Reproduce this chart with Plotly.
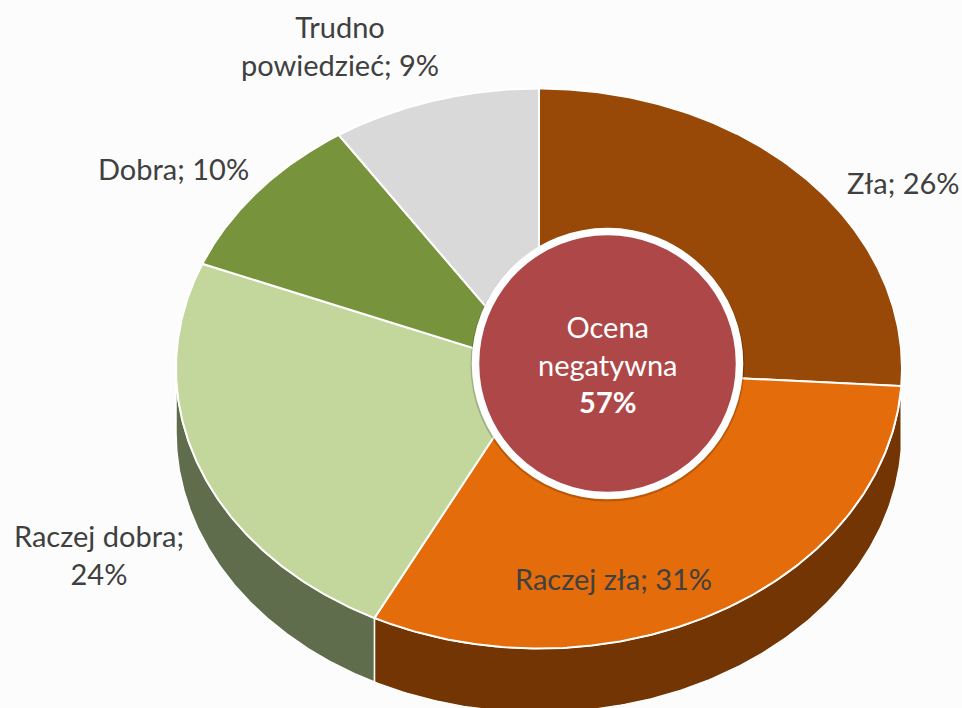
import numpy as np
import plotly.graph_objects as go

categories = ["Zła", "Raczej zła", "Raczej dobra", "Dobra", "Trudno powiedzieć"]
values = [26.0, 31.49, 23.61, 9.6, 9.3]
top_colors = ["#984807", "#E46C0A", "#C3D69B", "#77933C", "#D9D9D9"]
side_colors = ["#6B3205", "#733503", "#606D4D", "#55692B", "#999999"]
label_texts = ["Zła; 26%", "Raczej zła; 31%", "Raczej dobra;<br>24%", "Dobra; 10%", "Trudno<br>powiedzieć; 9%"]
label_x = [903, 613, 99, 173, 340]
label_y = [182, 578, 554, 168, 45]
center_lines = ["Ocena", "negatywna", "<b>57%</b>"]
negative_share = 57

CX, CY, RX, RY, DEPTH = 539, 368.5, 363, 280, 64
BADGE_X, BADGE_Y, BADGE_R = 607.5, 363.5, 132
TXT = "#404040"
BG = "#FCFCFC"


def pt(a, dy=0):
    return CX + RX * np.sin(a), CY - RY * np.cos(a) + dy


fig = go.Figure()
edges = 2 * np.pi * np.concatenate([[0], np.cumsum(values)]) / sum(values)

# visible wall (front half of the ellipse)
for i in range(len(values)):
    a0, a1 = max(edges[i], np.pi / 2), min(edges[i + 1], 3 * np.pi / 2)
    if a1 <= a0:
        continue
    t = np.linspace(a0, a1, 160)
    x1, y1 = pt(t)
    x2, y2 = pt(t[::-1], DEPTH)
    fig.add_trace(go.Scatter(x=np.r_[x1, x2, x1[0]], y=np.r_[y1, y2, y1[0]], mode="lines", fill="toself",
                             fillcolor=side_colors[i], line=dict(color="#FFFFFF", width=1.5),
                             hoverinfo="skip", showlegend=False))

# top surface
for i, name in enumerate(categories):
    t = np.linspace(edges[i], edges[i + 1], 200)
    x, y = pt(t)
    fig.add_trace(go.Scatter(x=np.r_[CX, x, CX], y=np.r_[CY, y, CY], mode="lines", fill="toself",
                             fillcolor=top_colors[i], line=dict(color="#FFFFFF", width=2),
                             name=name, hoverinfo="name", showlegend=False))

shapes = [
    dict(type="circle", xref="x", yref="y", x0=BADGE_X - BADGE_R - 5, x1=BADGE_X + BADGE_R + 5,
         y0=BADGE_Y - BADGE_R - 3, y1=BADGE_Y + BADGE_R + 6, fillcolor="rgba(0,0,0,0.18)", line_width=0,
         layer="above"),
    dict(type="circle", xref="x", yref="y", x0=BADGE_X - BADGE_R, x1=BADGE_X + BADGE_R,
         y0=BADGE_Y - BADGE_R, y1=BADGE_Y + BADGE_R, fillcolor="#AE4848",
         line=dict(color="#FFFFFF", width=7.5), layer="above"),
]

annotations = [
    dict(x=x, y=y, text=s, showarrow=False, xref="x", yref="y", xanchor="center", yanchor="middle",
         font=dict(family="Lato", size=29, color=TXT))
    for s, x, y in zip(label_texts, label_x, label_y)
]
annotations.append(dict(x=BADGE_X, y=364, text="<br>".join(center_lines), showarrow=False, xref="x", yref="y",
                        xanchor="center", yanchor="middle", font=dict(family="Lato", size=29, color="#FFFFFF")))

fig.update_layout(
    width=962, height=708, margin=dict(l=0, r=0, t=0, b=0),
    paper_bgcolor=BG, plot_bgcolor=BG, showlegend=False,
    xaxis=dict(range=[0, 962], visible=False, fixedrange=True),
    yaxis=dict(range=[708, 0], visible=False, fixedrange=True),
    shapes=shapes, annotations=annotations,
)
fig.write_html("out.html", config={"displayModeBar": False},
               post_script="document.body.style.margin='0';document.body.style.overflow='hidden';")
